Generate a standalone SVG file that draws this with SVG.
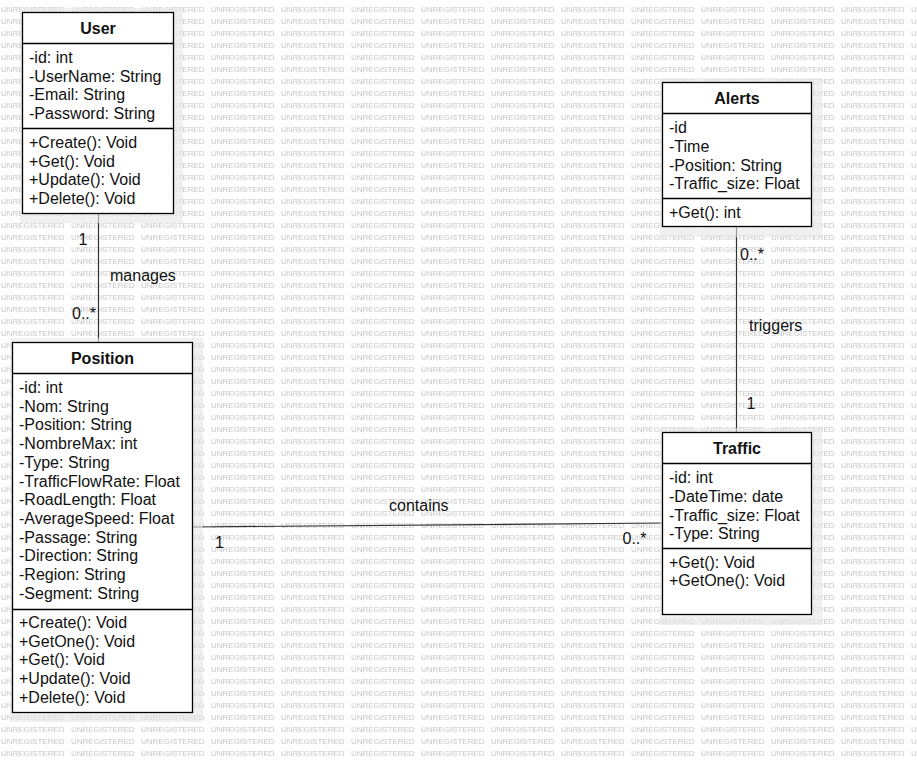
<svg xmlns="http://www.w3.org/2000/svg" width="917" height="762" viewBox="0 0 917 762">
<style>
.box{fill:#fff;stroke:#000;stroke-width:1.3}
.sep{stroke:#000;stroke-width:1.3}
.sh{fill:#e6e6e6;opacity:0.6}
.t{font-family:"Liberation Sans",Arial,sans-serif;font-size:16px;fill:#111}
.h{font-family:"Liberation Sans",Arial,sans-serif;font-size:16px;font-weight:bold;fill:#111;text-anchor:middle}
.wm{font-family:"Liberation Sans",Arial,sans-serif;font-size:8px;fill:#c6c6c6}
.ln{stroke:#333;stroke-width:1.2;fill:none}
</style>
<defs>
<pattern id="wm" patternUnits="userSpaceOnUse" x="0" y="0" width="70" height="12">
<text class="wm" x="1" y="11.5">UNREGISTERED</text>
</pattern>
</defs>
<rect x="0" y="0" width="917" height="762" fill="#fff"/>
<rect x="0" y="0" width="917" height="762" fill="url(#wm)"/>

<g id="connectors">
<line class="ln" x1="98.5" y1="213.5" x2="98.5" y2="342.5"/>
<line class="ln" x1="736.5" y1="226.5" x2="736.5" y2="432.5"/>
<line class="ln" x1="192.5" y1="527" x2="662.5" y2="523"/>
<text class="t" x="78.5" y="245">1</text>
<text class="t" x="110" y="281">manages</text>
<text class="t" x="72" y="319">0..*</text>
<text class="t" x="740" y="259.5">0..*</text>
<text class="t" x="749" y="331">triggers</text>
<text class="t" x="746.5" y="409">1</text>
<text class="t" x="389" y="511">contains</text>
<text class="t" x="215" y="548">1</text>
<text class="t" x="622.5" y="544">0..*</text>
</g>

<g id="User">
<rect class="sh" x="20" y="8" width="163" height="215"/>
<rect class="box" x="22.5" y="12.5" width="151" height="201"/>
<line class="sep" x1="22.5" y1="43.5" x2="173.5" y2="43.5"/>
<line class="sep" x1="22.5" y1="128.5" x2="173.5" y2="128.5"/>
<text class="h" x="98" y="33.5">User</text>
<text class="t" x="29" y="63">-id: int</text>
<text class="t" x="29" y="81.7">-UserName: String</text>
<text class="t" x="29" y="100.4">-Email: String</text>
<text class="t" x="29" y="119.1">-Password: String</text>
<text class="t" x="29" y="147.8">+Create(): Void</text>
<text class="t" x="29" y="166.5">+Get(): Void</text>
<text class="t" x="29" y="185.2">+Update(): Void</text>
<text class="t" x="29" y="203.9">+Delete(): Void</text>
</g>

<g id="Position">
<rect class="sh" x="10" y="338" width="193" height="384"/>
<rect class="box" x="12.5" y="342.5" width="180" height="370"/>
<line class="sep" x1="12.5" y1="373.5" x2="192.5" y2="373.5"/>
<line class="sep" x1="12.5" y1="609.5" x2="192.5" y2="609.5"/>
<text class="h" x="102.5" y="363.5">Position</text>
<text class="t" x="19" y="393">-id: int</text>
<text class="t" x="19" y="411.7">-Nom: String</text>
<text class="t" x="19" y="430.4">-Position: String</text>
<text class="t" x="19" y="449.1">-NombreMax: int</text>
<text class="t" x="19" y="467.8">-Type: String</text>
<text class="t" x="19" y="486.5">-TrafficFlowRate: Float</text>
<text class="t" x="19" y="505.2">-RoadLength: Float</text>
<text class="t" x="19" y="523.9">-AverageSpeed: Float</text>
<text class="t" x="19" y="542.6">-Passage: String</text>
<text class="t" x="19" y="561.3">-Direction: String</text>
<text class="t" x="19" y="580">-Region: String</text>
<text class="t" x="19" y="598.7">-Segment: String</text>
<text class="t" x="19" y="628">+Create(): Void</text>
<text class="t" x="19" y="646.7">+GetOne(): Void</text>
<text class="t" x="19" y="665.4">+Get(): Void</text>
<text class="t" x="19" y="684.1">+Update(): Void</text>
<text class="t" x="19" y="702.8">+Delete(): Void</text>
</g>

<g id="Alerts">
<rect class="sh" x="660" y="78" width="162" height="159"/>
<rect class="box" x="662.5" y="82.5" width="149" height="144"/>
<line class="sep" x1="662.5" y1="113.5" x2="811.5" y2="113.5"/>
<line class="sep" x1="662.5" y1="198.5" x2="811.5" y2="198.5"/>
<text class="h" x="737" y="103.5">Alerts</text>
<text class="t" x="669" y="133.3">-id</text>
<text class="t" x="669" y="152">-Time</text>
<text class="t" x="669" y="170.7">-Position: String</text>
<text class="t" x="669" y="189.4">-Traffic_size: Float</text>
<text class="t" x="669" y="217.7">+Get(): int</text>
</g>

<g id="Traffic">
<rect class="sh" x="660" y="428" width="162" height="197"/>
<rect class="box" x="662.5" y="432.5" width="149" height="182"/>
<line class="sep" x1="662.5" y1="463.5" x2="811.5" y2="463.5"/>
<line class="sep" x1="662.5" y1="548.5" x2="811.5" y2="548.5"/>
<text class="h" x="737" y="453.5">Traffic</text>
<text class="t" x="669" y="483.3">-id: int</text>
<text class="t" x="669" y="502">-DateTime: date</text>
<text class="t" x="669" y="520.7">-Traffic_size: Float</text>
<text class="t" x="669" y="539.4">-Type: String</text>
<text class="t" x="669" y="567.7">+Get(): Void</text>
<text class="t" x="669" y="586.4">+GetOne(): Void</text>
</g>
</svg>
